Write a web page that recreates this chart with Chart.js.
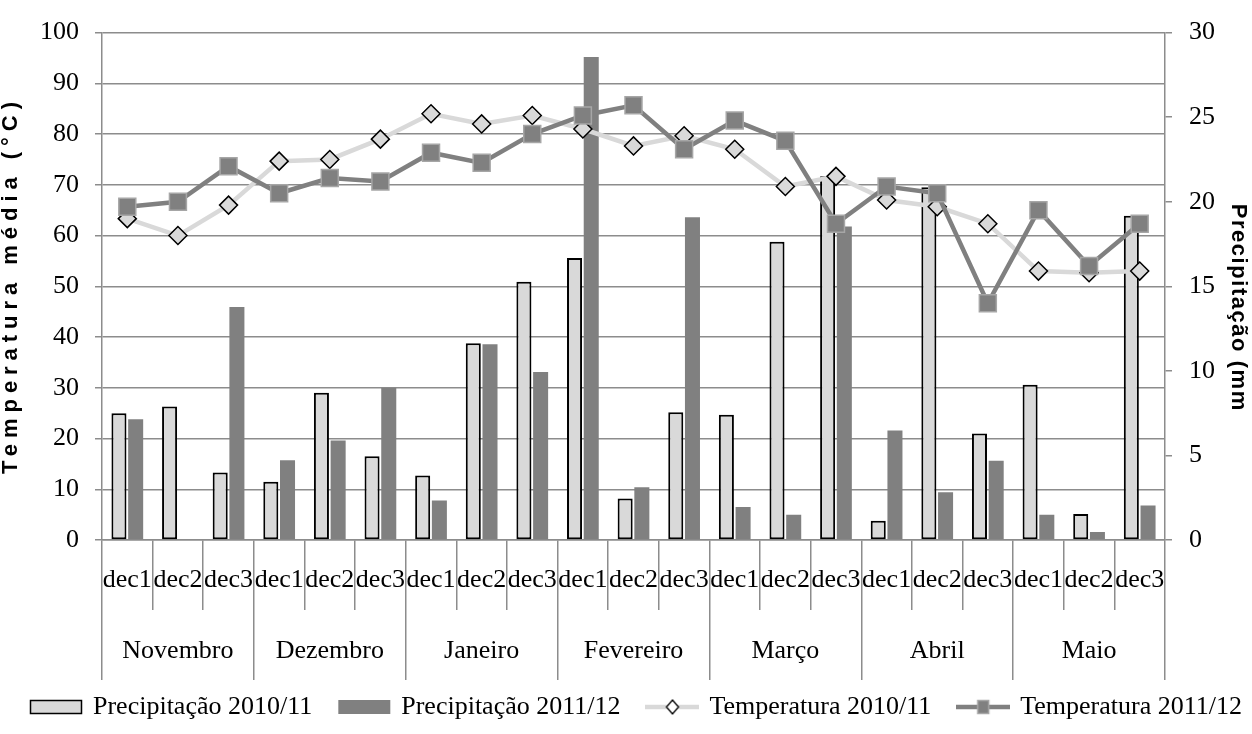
<!DOCTYPE html>
<html>
<head>
<meta charset="utf-8">
<script src="https://cdn.jsdelivr.net/npm/chart.js@4.4.0/dist/chart.umd.min.js"></script>
<style>
html, body { margin: 0; padding: 0; overflow: hidden; background: #fff; }
#wrap { width: 1274px; height: 734px; }
</style>
</head>
<body>
<div id="wrap"><canvas id="chart" width="1274" height="734"></canvas></div>
<script>
// ---- data ----
const decLabels = ['dec1','dec2','dec3','dec1','dec2','dec3','dec1','dec2','dec3','dec1','dec2','dec3',
                   'dec1','dec2','dec3','dec1','dec2','dec3','dec1','dec2','dec3'];
const months = ['Novembro','Dezembro','Janeiro','Fevereiro','Março','Abril','Maio'];

const precip1011 = [25.0, 26.3, 13.3, 11.5, 29.0, 16.5, 12.7, 38.8, 50.9, 55.6, 8.2, 25.2,
                    24.7, 58.8, 71.7, 3.8, 69.5, 21.0, 30.6, 5.1, 63.9];
const precip1112 = [23.8, 0, 45.9, 15.7, 19.6, 30.0, 7.8, 38.6, 33.1, 95.2, 10.4, 63.6,
                    6.5, 5.0, 61.8, 21.6, 9.4, 15.6, 5.0, 1.6, 6.8];
const temp1011 = [19.0, 18.0, 19.8, 22.4, 22.5, 23.7, 25.2, 24.6, 25.1, 24.3, 23.3, 23.9,
                  23.1, 20.9, 21.5, 20.1, 19.7, 18.7, 15.9, 15.8, 15.9];
const temp1112 = [19.7, 20.0, 22.1, 20.5, 21.4, 21.2, 22.9, 22.3, 24.0, 25.1, 25.7, 23.1,
                  24.8, 23.6, 18.7, 20.9, 20.5, 14.0, 19.5, 16.2, 18.7];

const leftTicks = { min: 0, max: 100, step: 10 };
const rightTicks = { min: 0, max: 30, step: 5 };

const leftTitle = 'Temperatura média (°C)';
const rightTitle = 'Precipitação (mm';

// ---- styles ----
const LIGHT = '#d9d9d9';
const DARK = '#808080';
const GRID = '#8c8c8c';
const serif = '"Liberation Serif", "Times New Roman", serif';

// legend symbols (line + marker like the original)
function makeSymbol(kind) {
  const c = document.createElement('canvas');
  c.width = 54; c.height = 18;
  const g = c.getContext('2d');
  if (kind === 'lightBox') {
    g.fillStyle = LIGHT; g.fillRect(1, 2, 52, 14);
    g.strokeStyle = '#000'; g.lineWidth = 1.5; g.strokeRect(1.5, 2.5, 51, 13);
  } else if (kind === 'darkBox') {
    g.fillStyle = DARK; g.fillRect(1, 2, 52, 14);
  } else if (kind === 'diamondLine') {
    g.strokeStyle = LIGHT; g.lineWidth = 4.5;
    g.beginPath(); g.moveTo(0, 9); g.lineTo(54, 9); g.stroke();
    g.beginPath(); g.moveTo(27, 2); g.lineTo(33, 9); g.lineTo(27, 16); g.lineTo(21, 9); g.closePath();
    g.fillStyle = '#fff'; g.fill(); g.strokeStyle = '#000'; g.lineWidth = 1.3; g.stroke();
  } else {
    g.strokeStyle = DARK; g.lineWidth = 4.5;
    g.beginPath(); g.moveTo(0, 9); g.lineTo(54, 9); g.stroke();
    g.fillStyle = DARK; g.fillRect(21, 2, 12, 14);
    g.strokeStyle = '#a6a6a6'; g.lineWidth = 1.5; g.strokeRect(21.5, 2.5, 11, 13);
  }
  return c;
}
const legendSymbols = [makeSymbol('lightBox'), makeSymbol('darkBox'), makeSymbol('diamondLine'), makeSymbol('squareLine')];

// axis titles drawn with letter spacing, as the original is stretched
function drawSpaced(ctx, text, x, y, rot, target) {
  ctx.save();
  ctx.font = 'bold 22px "Liberation Sans", Arial, sans-serif';
  ctx.letterSpacing = '0px';
  const w0 = ctx.measureText(text).width;
  const sp = Math.max(0, (target - w0) / text.length);
  ctx.letterSpacing = sp + 'px';
  ctx.translate(x, y);
  ctx.rotate(rot);
  ctx.fillStyle = '#000';
  ctx.textAlign = 'center';
  ctx.textBaseline = 'middle';
  ctx.fillText(text, sp / 2, 0);
  ctx.restore();
}

const axisTitles = {
  id: 'axisTitles',
  afterDraw(chart) {
    const yl = chart.scales.y, yr = chart.scales.y1;
    drawSpaced(chart.ctx, leftTitle, yl.left + 11, 288, -Math.PI / 2, 378);
    drawSpaced(chart.ctx, rightTitle, yr.left + 73, 307, Math.PI / 2, 208);
  }
};

Chart.defaults.color = '#000';
Chart.defaults.font.family = serif;
Chart.defaults.font.size = 26;

new Chart(document.getElementById('chart'), {
  type: 'bar',
  data: {
    labels: decLabels,
    datasets: [
      { type: 'bar', label: 'Precipitação 2010/11', data: precip1011, yAxisID: 'y', order: 2,
        backgroundColor: LIGHT, borderColor: '#000', borderWidth: 2, borderSkipped: false,
        categoryPercentage: 0.66, barPercentage: 0.9 },
      { type: 'bar', label: 'Precipitação 2011/12', data: precip1112, yAxisID: 'y', order: 3,
        backgroundColor: DARK, borderWidth: 0,
        categoryPercentage: 0.66, barPercentage: 0.9 },
      { type: 'line', label: 'Temperatura 2010/11', data: temp1011, yAxisID: 'y1', order: 1,
        borderColor: LIGHT, borderWidth: 4.5, tension: 0,
        pointStyle: 'rectRot', pointRadius: 9, pointBackgroundColor: LIGHT,
        pointBorderColor: '#000', pointBorderWidth: 1.5 },
      { type: 'line', label: 'Temperatura 2011/12', data: temp1112, yAxisID: 'y1', order: 0,
        borderColor: DARK, borderWidth: 4.5, tension: 0,
        pointStyle: 'rect', pointRadius: 12, pointBackgroundColor: DARK,
        pointBorderColor: '#a6a6a6', pointBorderWidth: 1.5 }
    ]
  },
  options: {
    responsive: false,
    animation: false,
    layout: { padding: { left: 0, right: 0, top: 0, bottom: 4 } },
    plugins: {
      tooltip: { enabled: false },
      legend: {
        position: 'bottom',
        labels: {
          usePointStyle: true,
          pointStyleWidth: 48,
          padding: 28,
          font: { family: serif, size: 26 },
          sort: (a, b) => a.datasetIndex - b.datasetIndex,
          generateLabels(chart) {
            const items = Chart.defaults.plugins.legend.labels.generateLabels(chart);
            items.forEach(it => { it.pointStyle = legendSymbols[it.datasetIndex]; });
            return items;
          }
        }
      }
    },
    scales: {
      x: {
        position: 'bottom', weight: 0, offset: true,
        grid: { offset: true, drawOnChartArea: false, tickLength: 70, color: GRID, lineWidth: 1.5 },
        border: { display: true, color: GRID, width: 1.5 },
        ticks: { autoSkip: false, maxRotation: 0, padding: -45, font: { family: serif, size: 26 } },
        afterFit(s) { s.height = 70; }
      },
      x2: {
        type: 'category', labels: months, position: 'bottom', weight: 1, offset: true,
        grid: { offset: true, drawOnChartArea: false, tickLength: 70, color: GRID, lineWidth: 1.5 },
        border: { display: false },
        ticks: { autoSkip: false, maxRotation: 0, padding: -44, font: { family: serif, size: 26 } },
        afterFit(s) { s.height = 56; }
      },
      y: {
        position: 'left', min: leftTicks.min, max: leftTicks.max,
        ticks: { stepSize: leftTicks.step, padding: 16, font: { family: serif, size: 26 } },
        grid: { color: GRID, lineWidth: 1.5, tickLength: 7 },
        border: { color: GRID, width: 1.5 },
        afterFit(s) { s.width = 102; }
      },
      y1: {
        position: 'right', min: rightTicks.min, max: rightTicks.max,
        ticks: { stepSize: rightTicks.step, padding: 17, font: { family: serif, size: 26 } },
        grid: { drawOnChartArea: false, color: GRID, lineWidth: 1.5, tickLength: 7 },
        border: { color: GRID, width: 1.5 },
        afterFit(s) { s.width = 109; }
      }
    }
  },
  plugins: [axisTitles]
});
</script>
</body>
</html>
